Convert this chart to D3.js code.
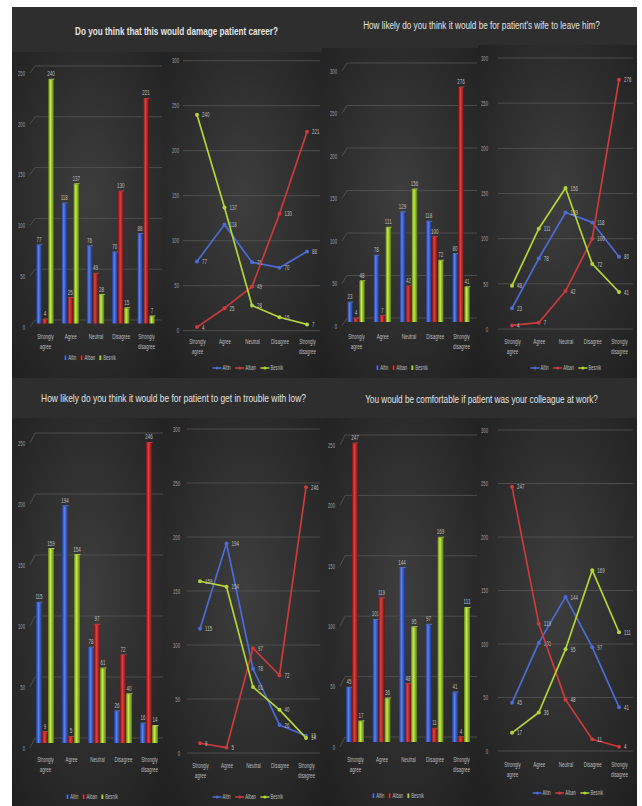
<!DOCTYPE html>
<html>
<head>
<meta charset="utf-8">
<script src="https://cdn.jsdelivr.net/npm/d3@7"></script>
<style>
  html, body { margin: 0; padding: 0; background: #ffffff; }
  svg { display: block; }
  text { font-family: "Liberation Sans", "DejaVu Sans", sans-serif; }
</style>
</head>
<body>
<svg id="chart" width="642" height="806"></svg>
<script>
// ---- data ----
const categories = ["Strongly agree", "Agree", "Neutral", "Disagree", "Strongly disagree"];
const seriesNames = ["Altin", "Alban", "Besnik"];

const careerTitle = "Do you think that this would damage patient career?";
const careerAltin = [77, 118, 76, 70, 88];
const careerAlban = [4, 25, 49, 130, 221];
const careerBesnik = [240, 137, 28, 15, 7];

const wifeTitle = "How likely do you think it would be for patient's wife to leave him?";
const wifeAltin = [23, 78, 129, 118, 80];
const wifeAlban = [4, 7, 42, 100, 276];
const wifeBesnik = [48, 111, 156, 72, 41];

const lawTitle = "How likely do you think it would be for patient to get in trouble with low?";
const lawAltin = [115, 194, 78, 26, 16];
const lawAlban = [9, 5, 97, 72, 246];
const lawBesnik = [159, 154, 61, 40, 14];

const colleagueTitle = "You would be comfortable if patient was your colleague at work?";
const colleagueAltin = [45, 101, 144, 97, 41];
const colleagueAlban = [247, 119, 48, 11, 4];
const colleagueBesnik = [17, 36, 95, 169, 111];

const ticks250 = [0, 50, 100, 150, 200, 250];
const ticks300 = [0, 50, 100, 150, 200, 250, 300];

// ---- layout of the four question panels ----
const panels = [
  {
    title: careerTitle, series: [careerAltin, careerAlban, careerBesnik], barTicks: ticks250,
    band: [12, 7, 322, 52], titleX: 176.5, titleY: 35, titleW: 203, bold: true,
    bar: { area: [12, 52, 165, 378], cx0: 45, cx1: 146, y0: 327, yTop: 73, depth: 7, dx: 5,
           gx0: 30, gx1: 162, labelX: 25, catY: 339, legY: 358, legX: 90, bw: 5.5, step: 6 },
    line: { area: [165, 52, 322, 378], cx0: 197, cx1: 307, y0: 330.7, yTop: 60.7,
            gx0: 183, gx1: 320, labelX: 179, catY: 344, legY: 368, legX: 248 }
  },
  {
    title: wifeTitle, series: [wifeAltin, wifeAlban, wifeBesnik], barTicks: ticks300,
    band: [322, 7, 637, 48], titleX: 481.5, titleY: 29, titleW: 237, bold: false,
    bar: { area: [322, 48, 478, 378], cx0: 356, cx1: 461, y0: 326, yTop: 71, depth: 8, dx: 5,
           gx0: 342, gx1: 477, labelX: 337, catY: 339, legY: 368, legX: 402, bw: 5.5, step: 6 },
    line: { area: [478, 45, 637, 378], cx0: 512, cx1: 619, y0: 329, yTop: 58,
            gx0: 498, gx1: 633, labelX: 488, catY: 344, legY: 368, legX: 566 }
  },
  {
    title: lawTitle, series: [lawAltin, lawAlban, lawBesnik], barTicks: ticks250,
    band: [12, 378, 327, 418], titleX: 173.5, titleY: 402, titleW: 265, bold: false,
    bar: { area: [12, 418, 165, 806], cx0: 45, cx1: 149, y0: 748, yTop: 443, depth: 10, dx: 5,
           gx0: 30, gx1: 163, labelX: 25, catY: 762, legY: 797, legX: 92, bw: 6, step: 6 },
    line: { area: [165, 418, 327, 806], cx0: 200, cx1: 306, y0: 753, yTop: 429,
            gx0: 187, gx1: 320, labelX: 180, catY: 768, legY: 797, legX: 248 }
  },
  {
    title: colleagueTitle, series: [colleagueAltin, colleagueAlban, colleagueBesnik], barTicks: ticks250,
    band: [327, 378, 637, 418], titleX: 481.5, titleY: 403, titleW: 233, bold: false,
    bar: { area: [327, 418, 478, 806], cx0: 355, cx1: 461, y0: 747, yTop: 445, depth: 10, dx: 5,
           gx0: 340, gx1: 477, labelX: 335, catY: 762, legY: 796, legX: 398, bw: 6, step: 6 },
    line: { area: [478, 418, 637, 806], cx0: 512, cx1: 619, y0: 751, yTop: 430,
            gx0: 498, gx1: 633, labelX: 488, catY: 767, legY: 793, legX: 568 }
  }
];

// ---- styling ----
const SX = 0.6;                  // horizontal squeeze of small label glyphs
const labelFill = "#bcbcbc";
const tickFill = "#a0a0a0";
const gridStroke = "#575757";
const barShades = [
  ["#1f3789", "#5a82ec", "#1c3280"],
  ["#761313", "#e0403e", "#6e1111"],
  ["#5a800f", "#c6ec4e", "#54790e"]
];
const lineColors = ["#4a6cd6", "#cc3b3b", "#b2d636"];

const svg = d3.select("#chart");
const defs = svg.append("defs");

const glow = defs.append("radialGradient").attr("id", "panelGlow")
  .attr("cx", "50%").attr("cy", "45%").attr("r", "75%");
glow.append("stop").attr("offset", "0%").attr("stop-color", "#3e3e3e");
glow.append("stop").attr("offset", "100%").attr("stop-color", "#1f1f1f");

barShades.forEach((s, i) => {
  const gr = defs.append("linearGradient").attr("id", "bar" + i)
    .attr("x1", "0").attr("x2", "1").attr("y1", "0").attr("y2", "0");
  gr.append("stop").attr("offset", "0%").attr("stop-color", s[0]);
  gr.append("stop").attr("offset", "40%").attr("stop-color", s[1]);
  gr.append("stop").attr("offset", "100%").attr("stop-color", s[2]);
});

// dark backdrop behind all panels
svg.append("rect").attr("x", 12).attr("y", 7).attr("width", 625).attr("height", 799).attr("fill", "#262626");

function smallText(g, x, y, str, size, fill, anchor) {
  return g.append("text")
    .attr("transform", `translate(${x},${y}) scale(${SX},1)`)
    .attr("text-anchor", anchor || "middle")
    .attr("font-size", size)
    .attr("fill", fill)
    .text(str);
}

function areaRect(a) {
  svg.append("rect").attr("x", a[0]).attr("y", a[1])
    .attr("width", a[2] - a[0]).attr("height", a[3] - a[1])
    .attr("fill", "url(#panelGlow)");
}

function categoryAxis(g, x, yPos) {
  const axis = d3.axisBottom(x).tickSize(0).tickPadding(0);
  const ag = g.append("g").attr("transform", `translate(0,${yPos})`).call(axis);
  ag.attr("font-size", null).attr("font-family", null);
  ag.select(".domain").remove();
  ag.selectAll("text")
    .attr("y", 0).attr("dy", null)
    .attr("transform", `scale(${SX},1)`)
    .attr("font-size", 7.5).attr("fill", labelFill)
    .each(function (d) {
      const t = d3.select(this);
      const words = d.split(" ");
      t.text(null);
      words.forEach((w, i) => {
        t.append("tspan").attr("x", 0).attr("dy", i === 0 ? 0 : "1.3em").text(w);
      });
    });
}

function valueAxis(g, y, ticks, xPos) {
  const axis = d3.axisLeft(y).tickValues(ticks).tickSize(0).tickPadding(0);
  const ag = g.append("g").attr("transform", `translate(${xPos},0)`).call(axis);
  ag.attr("font-size", null).attr("font-family", null);
  ag.select(".domain").remove();
  ag.selectAll("text")
    .attr("x", 0).attr("dy", "0.32em")
    .attr("transform", `scale(${SX},1)`)
    .attr("font-size", 7).attr("fill", tickFill);
  return ag;
}

function legend(g, cx, cy, kind) {
  const lg = g.append("g");
  let xPos = 0;
  seriesNames.forEach((name, i) => {
    const item = lg.append("g").attr("transform", `translate(${xPos},0)`);
    let tx;
    if (kind === "bar") {
      item.append("rect").attr("x", 0).attr("y", -2.5).attr("width", 2.5).attr("height", 4.5)
        .attr("fill", `url(#bar${i})`);
      tx = 4;
    } else {
      item.append("line").attr("x1", 0).attr("x2", 9).attr("y1", 0).attr("y2", 0)
        .attr("stroke", lineColors[i]).attr("stroke-width", 1.5);
      item.append("circle").attr("cx", 4.5).attr("cy", 0).attr("r", 1.5).attr("fill", lineColors[i]);
      tx = 10;
    }
    const t = smallText(item, tx, 2.3, name, 7, labelFill, "start");
    const w = t.node().getComputedTextLength() * SX;
    xPos += tx + w + (kind === "bar" ? 4 : 4.5);
  });
  const total = xPos - 4;
  lg.attr("transform", `translate(${cx - total / 2},${cy})`);
}

function drawBars(b, series, ticks) {
  areaRect(b.area);
  const g = svg.append("g");
  const y = d3.scaleLinear().domain([0, d3.max(ticks)]).range([b.y0, b.yTop]);
  const x = d3.scalePoint().domain(categories).range([b.cx0, b.cx1]);
  const off = d3.scalePoint().domain(seriesNames).range([-b.step, b.step]);

  // back-wall gridlines with a short floor diagonal on the left
  g.selectAll("path.grid").data(ticks).join("path").attr("class", "grid")
    .attr("d", t => `M${b.gx0},${y(t)}L${b.gx0 + b.dx},${y(t) - b.depth}H${b.gx1}`)
    .attr("fill", "none").attr("stroke", gridStroke).attr("stroke-width", 0.8);

  valueAxis(g, y, ticks, b.labelX);

  const yb = v => y(v) - b.depth / 2;
  series.forEach((vals, si) => {
    const rows = vals.map((v, i) => ({ cat: categories[i], v }));
    const sg = g.append("g");
    sg.selectAll("rect").data(rows).join("rect")
      .attr("x", d => x(d.cat) + off(seriesNames[si]) - b.bw / 2)
      .attr("y", d => yb(d.v))
      .attr("width", b.bw)
      .attr("height", d => yb(0) - yb(d.v))
      .attr("fill", `url(#bar${si})`);
    // light top face of each column
    sg.selectAll("path.cap").data(rows).join("path").attr("class", "cap")
      .attr("d", d => {
        const x0 = x(d.cat) + off(seriesNames[si]) - b.bw / 2;
        return `M${x0},${yb(d.v)}l1,-1h${b.bw}l-1,1z`;
      })
      .attr("fill", barShades[si][1]).attr("opacity", 0.8);
    rows.forEach(d => {
      smallText(sg, x(d.cat) + off(seriesNames[si]), yb(d.v) - 3.5, d.v, 7.5, labelFill, "middle");
    });
  });

  categoryAxis(g, x, b.catY);
  legend(g, b.legX, b.legY, "bar");
}

function drawLines(l, series, ticks) {
  areaRect(l.area);
  const g = svg.append("g");
  const y = d3.scaleLinear().domain([0, d3.max(ticks)]).range([l.y0, l.yTop]);
  const x = d3.scalePoint().domain(categories).range([l.cx0, l.cx1]);

  g.selectAll("line.grid").data(ticks).join("line").attr("class", "grid")
    .attr("x1", l.gx0).attr("x2", l.gx1)
    .attr("y1", t => y(t)).attr("y2", t => y(t))
    .attr("stroke", gridStroke).attr("stroke-width", 0.8);

  valueAxis(g, y, ticks, l.labelX);

  const line = d3.line().x(d => x(d.cat)).y(d => y(d.v));
  series.forEach((vals, si) => {
    const rows = vals.map((v, i) => ({ cat: categories[i], v }));
    const sg = g.append("g");
    sg.append("path").datum(rows).attr("d", line)
      .attr("fill", "none").attr("stroke", lineColors[si]).attr("stroke-width", 1.7)
      .attr("stroke-linejoin", "round");
    sg.selectAll("circle").data(rows).join("circle")
      .attr("cx", d => x(d.cat)).attr("cy", d => y(d.v)).attr("r", 2)
      .attr("fill", lineColors[si]);
    rows.forEach(d => {
      smallText(sg, x(d.cat) + 5, y(d.v) + 2.6, d.v, 7.5, labelFill, "start");
    });
  });

  categoryAxis(g, x, l.catY);
  legend(g, l.legX, l.legY, "line");
}

panels.forEach(p => {
  const [bx0, by0, bx1, by1] = p.band;
  svg.append("rect").attr("x", bx0).attr("y", by0).attr("width", bx1 - bx0).attr("height", by1 - by0)
    .attr("fill", "#2e2e2e");
  // title squeezed horizontally to its measured width
  const t = svg.append("text")
    .attr("text-anchor", "middle")
    .attr("font-size", 11)
    .attr("font-weight", p.bold ? "bold" : "normal")
    .attr("fill", "#e2e2e2")
    .text(p.title);
  const natural = t.node().getComputedTextLength();
  t.attr("transform", `translate(${p.titleX},${p.titleY}) scale(${p.titleW / natural},1)`);
  drawBars(p.bar, p.series, p.barTicks);
  drawLines(p.line, p.series, ticks300);
});
</script>
</body>
</html>
